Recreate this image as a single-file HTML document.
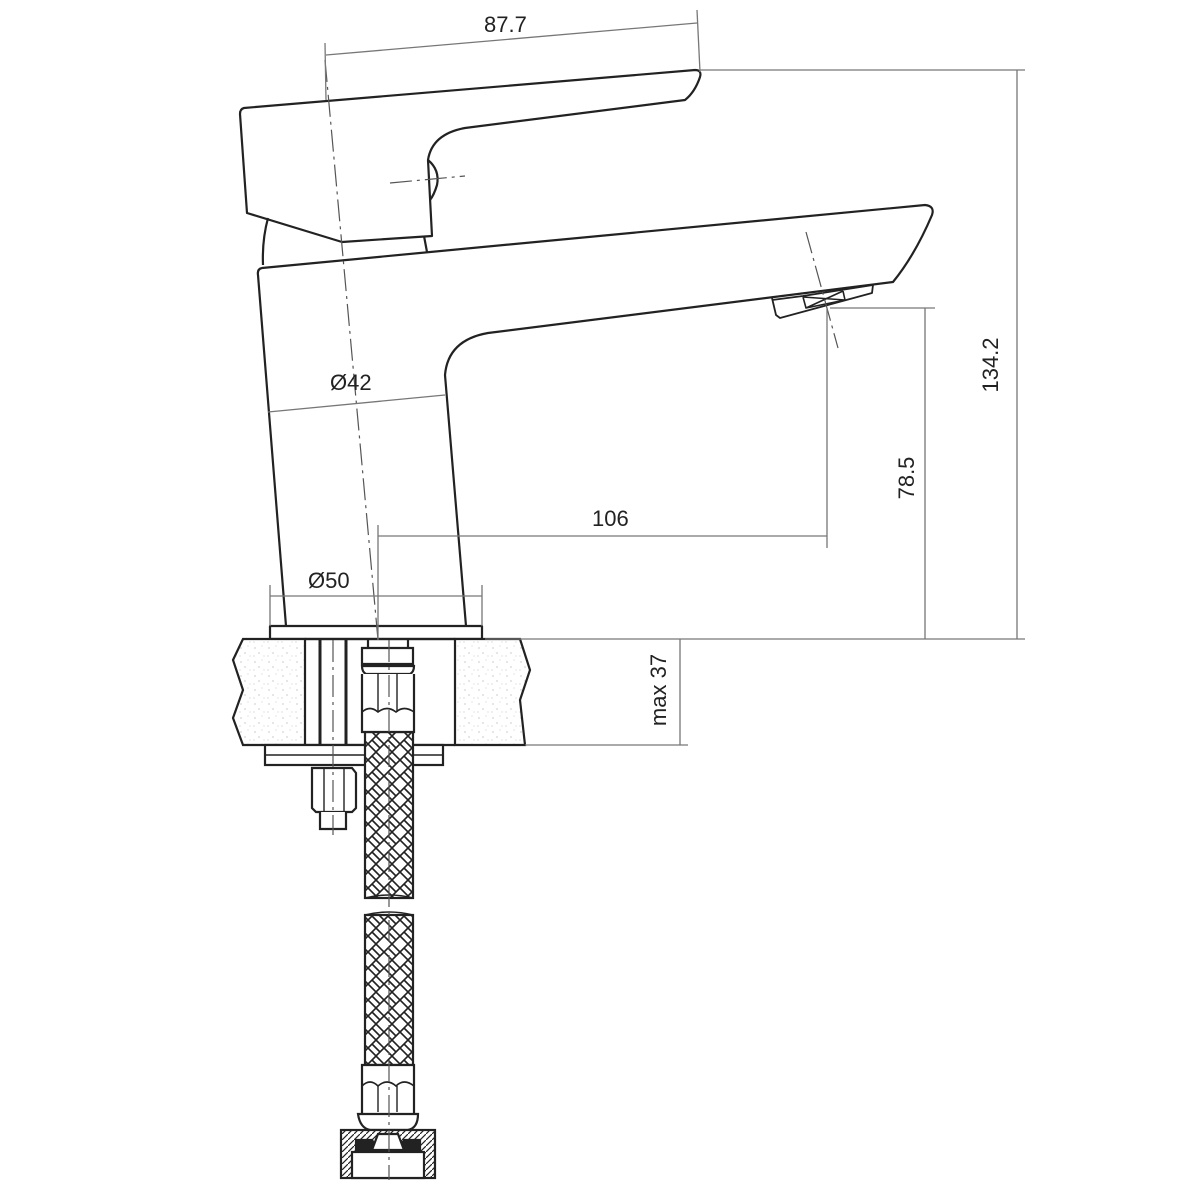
<!DOCTYPE html>
<html><head><meta charset="utf-8"><style>
html,body{margin:0;padding:0;background:#fff}
svg{display:block}
text{font-family:"Liberation Sans",sans-serif;font-size:22px;fill:#222}
</style></head><body>
<svg width="1200" height="1200" viewBox="0 0 1200 1200" xmlns="http://www.w3.org/2000/svg">
<defs>
<pattern id="braid" width="16" height="16" patternUnits="userSpaceOnUse">
<rect width="16" height="16" fill="#fff"/>
<path d="M0 8 L8 0 M8 16 L16 8 M0 8 L8 16 M8 0 L16 8 M4 4 L8 8 M12 12 L8 8" stroke="#222" stroke-width="1.6" fill="none"/>
</pattern>
<pattern id="granite" width="14" height="14" patternUnits="userSpaceOnUse">
<rect width="14" height="14" fill="#fff"/>
<circle cx="3" cy="4" r="0.6" fill="#aaa"/><circle cx="10" cy="2" r="0.5" fill="#bbb"/>
<circle cx="7" cy="9" r="0.6" fill="#aaa"/><circle cx="12" cy="12" r="0.5" fill="#bbb"/>
<circle cx="2" cy="12" r="0.5" fill="#aaa"/>
</pattern>
<pattern id="hatch" width="6" height="6" patternUnits="userSpaceOnUse">
<rect width="6" height="6" fill="#fff"/><path d="M0 6 L6 0" stroke="#222" stroke-width="1.2"/>
</pattern>
</defs>

<g fill="none" stroke="#222" stroke-width="2.2" stroke-linejoin="round">
<path d="M244 108 L695 70 Q702 70 700 77 Q695 92 685 100 L465 128 Q432 134 428 160 L432 236 L342 242 L247 213 L240 114 Q240 109 244 108 Z"/>
<path d="M428 160 Q440 170 437 185 Q434 195 430 200"/>
<path d="M268 218 Q262 240 263 265"/>
<path d="M424 236 L427 252"/>
<path d="M262 268 L925 205 Q935 206 932 215 Q915 255 893 282 L488 333 Q448 340 445 375 L466 626 M286 626 L258 275 Q257 269 262 268"/>
<path d="M772 298 L776 315 L780 318 L872 293 L873 285 L803 296 L772 300" stroke-width="1.8"/>
<path d="M803 297 L806 308 L845 300 L843 291 M803 297 L845 300 M806 308 L843 291" stroke-width="1.6"/>
<rect x="270" y="626" width="212" height="13"/>
</g>

<g stroke="#222" stroke-width="2.2">
<path d="M243 639 L305 639 L305 745 L243 745 L233 718 L243 690 L233 660 Z" fill="url(#granite)"/>
<path d="M455 639 L520 639 L530 670 L520 700 L525 745 L455 745 Z" fill="url(#granite)"/>
<line x1="305" y1="639" x2="455" y2="639"/>
<line x1="305" y1="745" x2="455" y2="745"/>
<line x1="320" y1="639" x2="320" y2="745" stroke-width="3"/>
<line x1="346" y1="639" x2="346" y2="745" stroke-width="3"/>
<rect x="265" y="745" width="178" height="20" fill="#fff"/>
<line x1="265" y1="755" x2="443" y2="755" stroke-width="1.6"/>
<path d="M312 768 L352 768 L356 773 L356 808 L352 812 L316 812 L312 808 Z" fill="#fff"/>
<line x1="324" y1="768" x2="324" y2="812" stroke-width="1.4"/><line x1="344" y1="768" x2="344" y2="812" stroke-width="1.4"/>
<path d="M320 812 L320 829 L346 829 L346 812" fill="#fff"/>
</g>

<g stroke="#222" stroke-width="2.2">
<rect x="365" y="732" width="48" height="166" fill="url(#braid)"/>
<rect x="365" y="915" width="48" height="150" fill="url(#braid)"/>
<path d="M365 898 Q389 892 413 898 M365 915 Q389 909 413 915" fill="none" stroke-width="1.6"/>
<path d="M362 648 L413 648 L413 664 L362 664 Z" fill="#fff"/>
<path d="M368 640 L368 648 M408 640 L408 648" />
<path d="M362 666 Q362 672 366 674 L410 674 Q414 672 414 666 Z" fill="#fff"/>
<path d="M362 674 L362 732 L414 732 L414 674" fill="#fff"/>
<path d="M362 712 Q370 705 378 712 Q387 705 396 712 Q404 705 414 712" fill="none" stroke-width="1.6"/>
<line x1="378" y1="674" x2="378" y2="712" stroke-width="1.4"/><line x1="397" y1="674" x2="397" y2="712" stroke-width="1.4"/>
<path d="M362 1065 L414 1065 L414 1122 L362 1122 Z" fill="#fff"/>
<path d="M362 1086 Q370 1078 378 1086 Q387 1078 396 1086 Q404 1078 414 1086" fill="none" stroke-width="1.6"/>
<line x1="378" y1="1086" x2="378" y2="1112" stroke-width="1.4"/><line x1="397" y1="1086" x2="397" y2="1112" stroke-width="1.4"/>
<path d="M358 1114 Q360 1128 370 1130 L408 1130 Q418 1128 418 1114 Z" fill="#fff"/>
<rect x="341" y="1130" width="94" height="48" fill="url(#hatch)"/>
<rect x="352" y="1152" width="72" height="26" fill="#fff"/>
<path d="M356 1140 L372 1140 L378 1150 L356 1150 Z M404 1140 L420 1140 L420 1150 L398 1150 Z" fill="#222"/>
<path d="M378 1134 L398 1134 L404 1150 L372 1150 Z" fill="#fff"/>
</g>

<g stroke="#555" stroke-width="1.2" fill="none" stroke-dasharray="22 5 3 5">
<line x1="325" y1="60" x2="378" y2="640"/>
<line x1="389" y1="640" x2="389" y2="1180"/>
<line x1="333" y1="640" x2="333" y2="835"/>
<line x1="806" y1="232" x2="838" y2="348"/>
<line x1="390" y1="183" x2="465" y2="176"/>
</g>

<g stroke="#777" stroke-width="1.3" fill="none">
<line x1="325" y1="43" x2="326" y2="100"/>
<line x1="697" y1="10" x2="700" y2="72"/>
<line x1="326" y1="55" x2="697" y2="23"/>
<line x1="700" y1="70" x2="1025" y2="70"/>
<line x1="485" y1="639" x2="1025" y2="639"/>
<line x1="1017" y1="70" x2="1017" y2="639"/>
<line x1="830" y1="308" x2="935" y2="308"/>
<line x1="925" y1="308" x2="925" y2="639"/>
<line x1="827" y1="308" x2="827" y2="548"/>
<line x1="378" y1="525" x2="378" y2="640"/>
<line x1="378" y1="536" x2="827" y2="536"/>
<line x1="268" y1="412" x2="445" y2="395"/>
<line x1="270" y1="585" x2="270" y2="626"/>
<line x1="482" y1="585" x2="482" y2="626"/>
<line x1="270" y1="596" x2="482" y2="596"/>
<line x1="525" y1="745" x2="688" y2="745"/>
<line x1="680" y1="639" x2="680" y2="745"/>
</g>
<text x="484" y="32">87.7</text>
<text x="330" y="390">Ø42</text>
<text x="308" y="588">Ø50</text>
<text x="592" y="526">106</text>
<text transform="translate(998,365) rotate(-90)" text-anchor="middle">134.2</text>
<text transform="translate(914,478) rotate(-90)" text-anchor="middle">78.5</text>
<text transform="translate(666,690) rotate(-90)" text-anchor="middle">max 37</text>
</svg>
</body></html>
